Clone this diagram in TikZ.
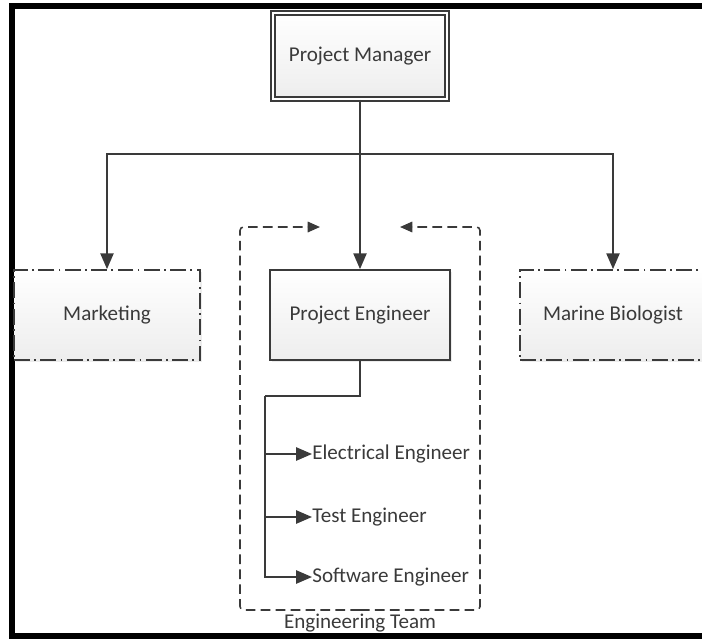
\documentclass[tikz,border=0pt]{standalone}
\usepackage{fontspec}
\setmainfont{Carlito}
\usetikzlibrary{arrows.meta,shadows}
\definecolor{ink}{HTML}{3A3A3A}
\begin{document}
\begin{tikzpicture}
[x=0.02cm, y=-0.02cm, font=\fontsize{12}{14}\selectfont, text=ink, >={Triangle[length=9pt,width=7.5pt]}]
\tikzstyle{box}=[rectangle, draw=ink, line width=1pt, top color=white, bottom color=gray!14, drop shadow={opacity=0.15, shadow xshift=1pt, shadow yshift=-1pt}, minimum width=3.6cm, minimum height=1.8cm]
\tikzstyle{dept}=[box, dash pattern=on 9pt off 2.5pt on 1pt off 2.5pt, minimum width=3.72cm]
\tikzstyle{lead}=[box, line width=0.9pt, double=white, double distance=1.6pt, minimum width=3.48cm, minimum height=1.72cm]
\tikzstyle{member}=[inner sep=0pt, anchor=west]
\tikzstyle{link}=[draw=ink, line width=1pt]
\tikzstyle{team}=[draw=ink, line width=0.9pt, rounded corners=2pt, dash pattern=on 5.5pt off 3pt, -{Triangle[length=7pt,width=6pt]}]
\useasboundingbox (0,0) rectangle (702,639);
\draw[line width=3.4pt] (720,6) -- (12,6) -- (12,636) -- (720,636);

\node[lead]		(pm)	at (360,56)		{Project Manager};
\node[dept]		(mk)	at (107,315)	{Marketing};
\node[box]		(pe)	at (360,315)	{Project Engineer};
\node[dept]		(mb)	at (613,315)	{Marine Biologist};
\node[member]	(ee)	at (312,454)	{Electrical Engineer};
\node[member]	(te)	at (312,517)	{Test Engineer};
\node[member]	(se)	at (312,577)	{Software Engineer};
\node			(tm)	at (360,623)	{Engineering Team};

\coordinate (hub)	at (360,154);
\coordinate (trunk)	at (265,396);
\coordinate (tl)	at (240,227);
\coordinate (tr)	at (480,227);
\coordinate (tb)	at (360,610);
\coordinate (al)	at (320,227);
\coordinate (ar)	at (400,227);

\draw[link]		(pm) -- (hub);
\draw[link,->]	(hub) -- (pe);
\draw[link,->]	(hub) -| (mk);
\draw[link,->]	(hub) -| (mb);
\draw[link]		(pe) |- (trunk);
\draw[link,->]	(trunk) |- (se.west);
\draw[link,->]	(trunk |- ee.west) -- (ee.west);
\draw[link,->]	(trunk |- te.west) -- (te.west);
\draw[team]		(tb) -| (tl) -- (al);
\draw[team]		(tb) -| (tr) -- (ar);
\end{tikzpicture}
\end{document}
